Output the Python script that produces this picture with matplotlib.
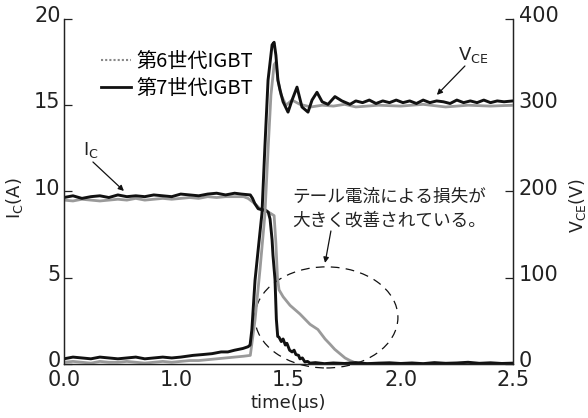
import matplotlib
matplotlib.use('Agg')
import matplotlib.pyplot as plt
from matplotlib.lines import Line2D
from matplotlib.patches import Ellipse
from matplotlib.transforms import ScaledTranslation

JP = ['Noto Sans CJK JP', 'DejaVu Sans']
plt.rcParams['font.family'] = 'DejaVu Sans'
plt.rcParams['mathtext.fontset'] = 'dejavusans'

# turn-off waveforms (time in us)
# 7th gen Ic
t_ic7 = [0.50, 0.54, 0.58, 0.62, 0.66, 0.70, 0.74, 0.78, 0.82, 0.86, 0.90, 0.94, 0.98,
         1.02, 1.06, 1.10, 1.14, 1.18, 1.22, 1.26, 1.29, 1.33, 1.34, 1.35, 1.365, 1.38,
         1.40, 1.41, 1.418, 1.427, 1.431, 1.440, 1.446, 1.452, 1.458, 1.468, 1.476, 1.486,
         1.493, 1.505, 1.516, 1.525, 1.533, 1.545, 1.551, 1.562, 1.573, 1.585, 1.596, 1.62,
         1.66, 1.70, 1.75, 1.80, 1.85, 1.90, 1.95, 2.00, 2.05, 2.10, 2.15, 2.20, 2.25, 2.30,
         2.35, 2.40, 2.45, 2.50]
ic7 = [9.65, 9.75, 9.6, 9.7, 9.75, 9.65, 9.8, 9.7, 9.75, 9.7, 9.8, 9.75, 9.7,
       9.85, 9.8, 9.75, 9.85, 9.9, 9.8, 9.9, 9.85, 9.8, 9.6, 9.3, 9.0, 8.95,
       8.9, 8.8, 8.4, 7.2, 6.3, 4.9, 2.6, 1.6, 1.55, 1.3, 1.45, 1.1,
       1.2, 0.8, 0.7, 0.8, 0.55, 0.5, 0.3, 0.35, 0.12, 0.15, 0.05, 0.08,
       0.02, 0.06, 0.03, 0.08, 0.02, 0.05, 0.07, 0.03, 0.06, 0.02, 0.08, 0.04, 0.06, 0.1,
       0.04, 0.07, 0.03, 0.05]

# 6th gen Ic
t_ic6 = [0.50, 0.54, 0.58, 0.62, 0.66, 0.70, 0.74, 0.78, 0.82, 0.86, 0.90, 0.94, 0.98,
         1.02, 1.06, 1.10, 1.14, 1.18, 1.22, 1.26, 1.30, 1.32, 1.35, 1.373, 1.395, 1.418,
         1.436, 1.444, 1.451, 1.458, 1.476, 1.507, 1.551, 1.596, 1.631, 1.663, 1.685,
         1.706, 1.729, 1.752, 1.774, 1.80, 1.85, 1.90, 2.00, 2.20, 2.50]
ic6 = [9.5, 9.45, 9.55, 9.5, 9.45, 9.5, 9.55, 9.5, 9.6, 9.5, 9.55, 9.6, 9.55,
       9.6, 9.65, 9.6, 9.7, 9.65, 9.7, 9.7, 9.7, 9.6, 9.3, 9.0, 8.9, 8.75,
       8.6, 7.0, 5.0, 4.3, 3.9, 3.4, 2.9, 2.3, 2.0, 1.45, 1.15,
       0.85, 0.6, 0.35, 0.2, 0.06, 0.03, 0.0, 0.02, 0.0, 0.02]

# 7th gen Vce
t_v7 = [0.50, 0.54, 0.58, 0.62, 0.66, 0.70, 0.74, 0.78, 0.82, 0.86, 0.90, 0.94, 0.98,
        1.02, 1.075, 1.12, 1.16, 1.20, 1.23, 1.26, 1.297, 1.32, 1.329, 1.337, 1.351,
        1.364, 1.382, 1.395, 1.409, 1.427, 1.436, 1.444, 1.453, 1.462, 1.476, 1.498,
        1.516, 1.538, 1.560, 1.587, 1.605, 1.627, 1.650, 1.676, 1.707, 1.738, 1.774,
        1.80, 1.83, 1.86, 1.89, 1.92, 1.95, 1.98, 2.01, 2.04, 2.07, 2.10, 2.13, 2.16,
        2.19, 2.22, 2.25, 2.28, 2.31, 2.34, 2.37, 2.40, 2.43, 2.46, 2.50]
v7 = [6, 8, 7, 6, 8, 7, 6, 7, 8, 6, 7, 8, 7,
      8, 10, 11, 12, 14, 14, 16, 18, 20, 22, 40, 97,
      130, 175, 252, 329, 370, 373, 358, 329, 318, 304, 292,
      306, 321, 298, 292, 306, 315, 304, 301, 310, 305, 301,
      305, 303, 306, 302, 305, 303, 306, 303, 305, 302, 306, 303, 305,
      304, 302, 306, 303, 305, 303, 306, 303, 305, 304, 305]

# 6th gen Vce
t_v6 = [0.50, 0.54, 0.58, 0.62, 0.66, 0.70, 0.74, 0.78, 0.82, 0.86, 0.90, 0.94, 0.98,
        1.02, 1.06, 1.10, 1.14, 1.18, 1.22, 1.26, 1.30, 1.33, 1.351, 1.373, 1.395,
        1.409, 1.422, 1.436, 1.444, 1.453, 1.467, 1.489, 1.516, 1.551, 1.60, 1.65,
        1.70, 1.75, 1.80, 1.90, 2.00, 2.10, 2.20, 2.30, 2.40, 2.50]
v6 = [2, 3, 2, 1, 3, 2, 2, 3, 2, 1, 2, 3, 2,
      3, 4, 4, 5, 6, 7, 8, 9, 10, 51, 109, 173,
      248, 312, 347, 350, 329, 312, 300, 306, 301, 298, 300,
      299, 301, 298, 300, 299, 301, 298, 300, 299, 300]

fig = plt.figure(figsize=(5.88, 4.18), dpi=100)
ax = fig.add_axes([0.1088, 0.1292, 0.7636, 0.8254])
ax2 = ax.twinx()

gray = '#9a9a9a'
ax.plot(t_ic6, ic6, color=gray, lw=2.0)
ax.plot(t_ic7, ic7, color='#111111', lw=2.1)
ax2.plot(t_v6, v6, color=gray, lw=2.0)
ax2.plot(t_v7, v7, color='#111111', lw=2.1)

ax.set_xlim(0.5, 2.5)
ax.set_ylim(0, 20)
ax2.set_ylim(0, 400)
ax.set_xticks([0.5, 1.0, 1.5, 2.0, 2.5])
ax.set_xticklabels(['0.0', '1.0', '1.5', '2.0', '2.5'])
ax.set_yticks([0, 5, 10, 15, 20])
ax2.set_yticks([0, 100, 200, 300, 400])

for a in (ax, ax2):
    a.spines['top'].set_visible(False)
    for s in a.spines.values():
        s.set_linewidth(0.9)
        s.set_color('#222222')
ax.tick_params(axis='x', length=0, pad=4, labelsize=15, colors='#222222')
ax.tick_params(axis='y', direction='in', length=6, width=0.9, pad=2.5, labelsize=15,
               colors='#222222')
ax2.tick_params(axis='y', direction='in', length=6, width=0.9, pad=4, labelsize=15,
                colors='#222222')

# y tick labels sit a little above their ticks in the original
up = ScaledTranslation(0, 3.5 / 72, fig.dpi_scale_trans)
for lab in ax.get_yticklabels() + ax2.get_yticklabels():
    lab.set_transform(lab.get_transform() + up)

ax.set_xlabel('time(μs)', fontsize=13, labelpad=3, color='#222222')
ax.set_ylabel(r'I$_\mathrm{C}$(A)', fontsize=13, color='#222222')
ax.yaxis.set_label_coords(-0.087, 0.48)
ax2.set_ylabel(r'V$_\mathrm{CE}$(V)', fontsize=12.5, color='#222222')
ax2.yaxis.set_label_coords(1.121, 0.46)

# legend
handles = [Line2D([], [], color='#888888', ls=(0, (1, 1)), lw=1.5),
           Line2D([], [], color='#111111', lw=2.0)]
leg = fig.legend(handles, ['第6世代IGBT', '第7世代IGBT'], loc='upper left',
                 bbox_to_anchor=(0.172, 0.878), frameon=False, borderpad=0,
                 borderaxespad=0, handlelength=1.5, handletextpad=0.25,
                 labelspacing=0.3, prop={'family': JP, 'size': 14.5})

# Ic / Vce pointers
arrow = dict(arrowstyle='-|>', color='#111111', lw=0.9, mutation_scale=8,
             shrinkA=0, shrinkB=0)
ax.annotate('', xy=(0.767, 10.03), xytext=(0.629, 11.71), arrowprops=arrow)
ax.text(0.585, 12.4, r'I$_\mathrm{C}$', fontsize=13, ha='left', va='center', color='#222222')
ax2.annotate('', xy=(2.161, 312), xytext=(2.286, 345.5), arrowprops=arrow)
ax2.text(2.255, 358, r'V$_\mathrm{CE}$', fontsize=13, ha='left', va='center', color='#222222')

# tail current note
ax.text(0.508, 0.484, 'テール電流による損失が', transform=ax.transAxes, fontsize=12.7,
        family=JP, ha='left', va='center', color='#222222')
ax.text(0.508, 0.417, '大きく改善されている。', transform=ax.transAxes, fontsize=12.7,
        family=JP, ha='left', va='center', color='#222222')
ax.annotate('', xy=(1.663, 5.86), xytext=(1.689, 7.71), arrowprops=arrow)
ax.add_patch(Ellipse((1.669, 2.70), 0.637, 5.86, fill=False, ls=(0, (7, 5)), lw=0.9,
                     ec='#111111', clip_on=False))

fig.savefig('out.png', dpi=100)
